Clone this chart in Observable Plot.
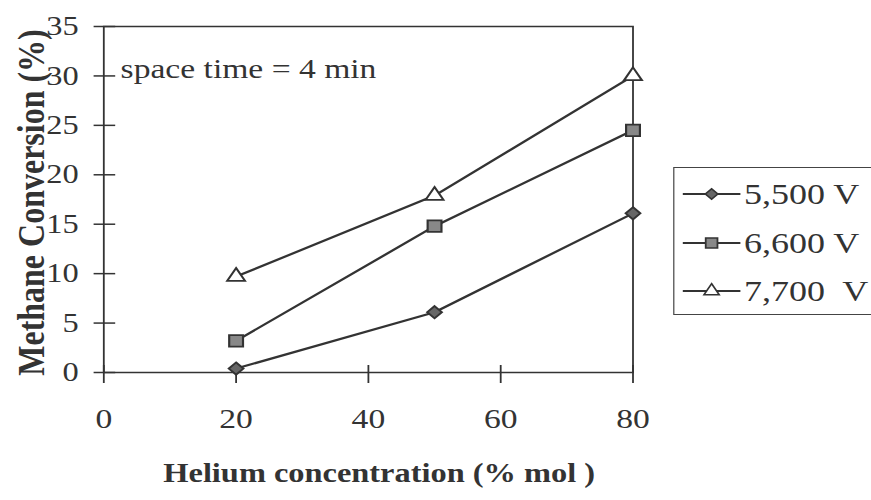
<!DOCTYPE html>
<html>
<head>
<meta charset="utf-8">
<script src="https://cdn.jsdelivr.net/npm/d3@7"></script>
<script src="https://cdn.jsdelivr.net/npm/@observablehq/plot@0.6"></script>
<style>
  html, body { margin: 0; padding: 0; background: #fff; overflow: hidden; }
  #wrap { position: relative; width: 726px; height: 500px; transform: scaleX(1.2); transform-origin: 0 0;
          font-family: "Liberation Serif", "Times New Roman", serif; color: #333; }
  #legend { position: absolute; left: 561px; top: 167px; width: 172px; height: 148px;
            border: 1.5px solid #444; box-sizing: border-box; background: #fff; }
  .row { position: absolute; left: 6px; height: 36px; display: flex; align-items: center;
         font-size: 30px; white-space: pre; line-height: 36px; }
  .row svg { display: block; margin-right: 2px; }
</style>
</head>
<body>
<div id="wrap"><div id="legend"></div></div>
<script>
// ---- data ----
const helium = [20, 50, 80];
const seriesNames = ["5,500 V", "6,600 V", "7,700  V"];
const v5500 = [0.4, 6.1, 16.1];
const v6600 = [3.2, 14.8, 24.5];
const v7700 = [9.7, 17.9, 30.0];
const xTicks = [0, 20, 40, 60, 80];
const yTicks = [0, 5, 10, 15, 20, 25, 30, 35];
const xTitle = "Helium concentration (% mol )";
const yTitle = "Methane Conversion (%)";
const note = "space time = 4 min";

// ---- styles per series ----
const ink = "#333";
const markerStyles = [
  {symbol: "diamond2", r: 5.5, fill: "#666", stroke: ink},
  {symbol: "square", r: 6.5, fill: "#888", stroke: ink},
  {symbol: "triangle", r: 5.5, fill: "#fff", stroke: ink}
];

const allValues = [v5500, v6600, v7700];
const rows = [];
allValues.forEach((vals, i) => helium.forEach((h, j) => rows.push({series: seriesNames[i], helium: h, conv: vals[j]})));

const dotMarks = seriesNames.map((name, i) =>
  Plot.dot(rows.filter(d => d.series === name), {
    x: "helium", y: "conv",
    symbol: markerStyles[i].symbol, r: markerStyles[i].r,
    fill: markerStyles[i].fill, stroke: markerStyles[i].stroke, strokeWidth: 1.8
  })
);

const chart = Plot.plot({
  width: 726,
  height: 500,
  marginLeft: 86,
  marginRight: 199,
  marginTop: 26,
  marginBottom: 128,
  style: {fontFamily: "'Liberation Serif', 'Times New Roman', serif", color: "#333", background: "transparent", overflow: "visible"},
  x: {domain: [0, 80]},
  y: {domain: [0, 35]},
  marks: [
    Plot.frame({stroke: ink, strokeWidth: 1.5}),
    Plot.axisX({ticks: xTicks, tickSize: 18, insetBottom: 7, tickPadding: 25, fontSize: 28, label: null, stroke: ink, strokeWidth: 1.5}),
    Plot.axisY({ticks: yTicks, tickSize: 18, insetLeft: 10, tickPadding: 13, fontSize: 27, label: null, stroke: ink, strokeWidth: 1.5}),
    Plot.line(rows, {x: "helium", y: "conv", z: "series", stroke: ink, strokeWidth: 2.2}),
    ...dotMarks,
    Plot.text([yTitle], {text: d => d, frameAnchor: "left", textAnchor: "middle", dx: -60, dy: 3, rotate: -90, fontSize: 32, fontWeight: "bold"}),
    Plot.text([xTitle], {text: d => d, frameAnchor: "bottom", textAnchor: "middle", dx: 9, dy: 109, fontSize: 27, fontWeight: "bold"}),
    Plot.text([note], {text: d => d, frameAnchor: "top-left", dx: 14, dy: 32, textAnchor: "start", fontSize: 28})
  ]
});
const wrap = document.getElementById("wrap");
wrap.insertBefore(chart, wrap.firstChild);

// ---- legend ----
const legend = document.getElementById("legend");
const rowCenters = [26, 75, 123];
seriesNames.forEach((name, i) => {
  const row = document.createElement("div");
  row.className = "row";
  row.style.top = (rowCenters[i] - 18) + "px";
  const svg = d3.create("svg").attr("width", 50).attr("height", 20);
  svg.append("line").attr("x1", 1).attr("x2", 49).attr("y1", 10).attr("y2", 10)
    .attr("stroke", ink).attr("stroke-width", 2);
  const ms = markerStyles[i];
  const symType = {diamond2: d3.symbolDiamond2, square: d3.symbolSquare, triangle: d3.symbolTriangle}[ms.symbol];
  svg.append("path").attr("transform", "translate(25,10)")
    .attr("d", d3.symbol(symType, Math.PI * (ms.r * 0.85) ** 2)())
    .attr("fill", ms.fill).attr("stroke", ms.stroke).attr("stroke-width", 1.5);
  row.appendChild(svg.node());
  const label = document.createElement("span");
  label.textContent = name;
  row.appendChild(label);
  legend.appendChild(row);
});
</script>
</body>
</html>
